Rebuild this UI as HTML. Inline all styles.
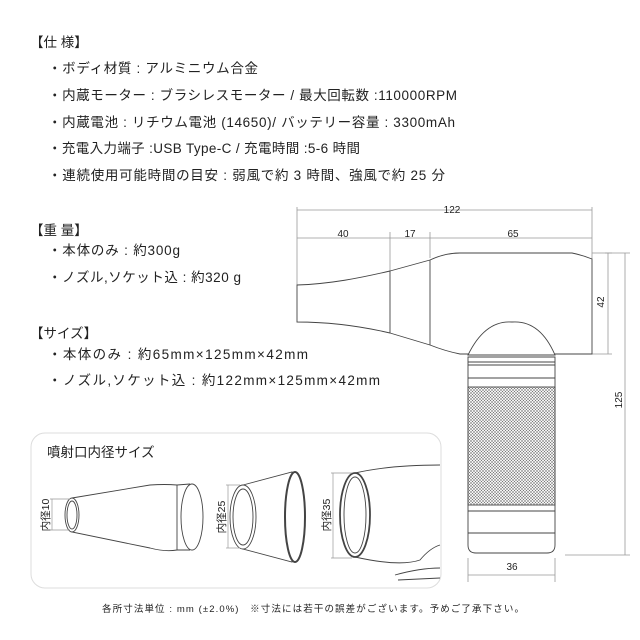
<!DOCTYPE html>
<html><head><meta charset="utf-8"><style>
html,body{margin:0;padding:0;background:#fff;}
svg{display:block;}
text{font-family:"Liberation Sans","Noto Sans CJK JP",sans-serif;fill:#222;}
</style></head><body>
<svg width="640" height="640" viewBox="0 0 640 640" xmlns="http://www.w3.org/2000/svg">
<defs>
<pattern id="kn" width="3" height="3" patternUnits="userSpaceOnUse">
<rect width="3" height="3" fill="#f2f2f2"/>
<path d="M0 0L3 3M3 0L0 3" stroke="#777" stroke-width="0.5"/>
</pattern>
</defs>
<g font-size="13.5">
<text x="30" y="47">【仕 様】</text>
<text x="48" y="73" textLength="210">・ボディ材質 : アルミニウム合金</text>
<text x="48" y="100" textLength="409">・内蔵モーター : ブラシレスモーター / 最大回転数 :110000RPM</text>
<text x="48" y="127" textLength="407">・内蔵電池 : リチウム電池 (14650)/ バッテリー容量 : 3300mAh</text>
<text x="48" y="153" textLength="312">・充電入力端子 :USB Type-C / 充電時間 :5-6 時間</text>
<text x="48" y="180" textLength="397">・連続使用可能時間の目安 : 弱風で約 3 時間、強風で約 25 分</text>
<text x="30" y="235">【重 量】</text>
<text x="48" y="255" textLength="132">・本体のみ : 約300g</text>
<text x="48" y="282" textLength="193">・ノズル,ソケット込 : 約320 g</text>
<text x="30" y="338">【サイズ】</text>
<text x="48" y="359" textLength="260">・本体のみ : 約65mm×125mm×42mm</text>
<text x="48" y="385" textLength="332">・ノズル,ソケット込 : 約122mm×125mm×42mm</text>
</g>
<g stroke="#999" stroke-width="0.8" fill="none">
<line x1="297" y1="210" x2="592" y2="210"/>
<line x1="297" y1="238" x2="592" y2="238"/>
<line x1="297" y1="207" x2="297" y2="285"/>
<line x1="592" y1="207" x2="592" y2="259"/>
<line x1="390" y1="232" x2="390" y2="271"/>
<line x1="430" y1="232" x2="430" y2="258"/>
<line x1="592" y1="253" x2="612" y2="253"/>
<line x1="592" y1="354" x2="612" y2="354"/>
<line x1="608" y1="253" x2="608" y2="354"/>
<line x1="605" y1="253" x2="630" y2="253"/>
<line x1="565" y1="555" x2="630" y2="555"/>
<line x1="625" y1="253" x2="625" y2="555"/>
<line x1="468" y1="575" x2="555" y2="575"/>
<line x1="468" y1="558" x2="468" y2="582"/>
<line x1="555" y1="558" x2="555" y2="582"/>
</g>
<g font-size="10" fill="#333" text-anchor="middle">
<text x="452" y="213">122</text>
<text x="343" y="237">40</text>
<text x="410" y="237">17</text>
<text x="513" y="237">65</text>
<text x="512" y="570">36</text>
<text transform="translate(604,302) rotate(-90)">42</text>
<text transform="translate(622,400) rotate(-90)">125</text>
</g>
<g stroke="#444" stroke-width="0.9" fill="#fff">
<path d="M297 285 C330 284 360 278 390 271 L430 260 Q445 253 460 253 L572 253 Q582 255 592 259 L592 354 L548 354 L475 354 L460 354 Q445 351 430 345 L390 333 C360 326 330 322 297 322 Z"/>
<line x1="390" y1="271" x2="390" y2="333"/>
<line x1="430" y1="260" x2="430" y2="345"/>
<path d="M468 355 Q485 320 512 322 Q540 320 555 355 Z"/>
<path d="M468 357 L555 357 L555 545 Q555 553 547 553 L476 553 Q468 553 468 545 Z"/>
<line x1="468" y1="362" x2="555" y2="362"/>
<line x1="468" y1="365" x2="555" y2="365"/>
<line x1="468" y1="378" x2="555" y2="378"/>
<rect x="468" y="387" width="87" height="118" fill="url(#kn)"/>
<line x1="468" y1="511" x2="555" y2="511"/>
<line x1="468" y1="533" x2="555" y2="533"/>
</g>
<rect x="31" y="433" width="410" height="155" rx="14" fill="#fff" stroke="#ddd" stroke-width="1"/>
<text x="47" y="457" font-size="13.5">噴射口内径サイズ</text>
<g stroke="#444" stroke-width="0.9" fill="#fff">
<path d="M72 498 L150 485 Q165 484 177 485 L177 550 Q165 552 150 548 L72 532 Z"/>
<ellipse cx="192" cy="517" rx="11" ry="33"/>
<path d="M177 485 L190 484 M177 550 L190 550"/>
<ellipse cx="72" cy="515" rx="7" ry="17"/>
<ellipse cx="72" cy="515" rx="5" ry="14"/>
<path d="M243 485 L292 472 L292 562 L243 549 Z"/>
<ellipse cx="295" cy="517" rx="10" ry="45" stroke-width="2"/>
<ellipse cx="243" cy="517" rx="13" ry="32"/>
<ellipse cx="243" cy="517" rx="10" ry="28"/>
<path d="M355 473 Q390 465 440 465 M355 557 Q400 567 420 560 Q430 548 440 545" fill="none"/>
<path d="M395 575 Q420 568 440 568 M398 580 L440 578" fill="none"/>
<ellipse cx="355" cy="515" rx="15" ry="42" stroke-width="1.8"/>
<ellipse cx="355" cy="515" rx="11" ry="38"/>
</g>
<g stroke="#999" stroke-width="0.7">
<line x1="52" y1="499" x2="52" y2="530"/><line x1="50" y1="499" x2="70" y2="499"/><line x1="50" y1="530" x2="70" y2="530"/>
<line x1="228" y1="485" x2="228" y2="548"/><line x1="226" y1="485" x2="240" y2="485"/><line x1="226" y1="548" x2="240" y2="548"/>
<line x1="333" y1="473" x2="333" y2="558"/><line x1="331" y1="473" x2="352" y2="473"/><line x1="331" y1="558" x2="352" y2="558"/>
</g>
<g font-size="10.5" text-anchor="middle">
<text transform="translate(49,515) rotate(-90)">内径10</text>
<text transform="translate(225,517) rotate(-90)">内径25</text>
<text transform="translate(330,515) rotate(-90)">内径35</text>
</g>
<text x="313" y="612" font-size="9.5" text-anchor="middle" textLength="422">各所寸法単位 : mm (±2.0%)　※寸法には若干の誤差がございます。予めご了承下さい。</text>
</svg>
</body></html>
